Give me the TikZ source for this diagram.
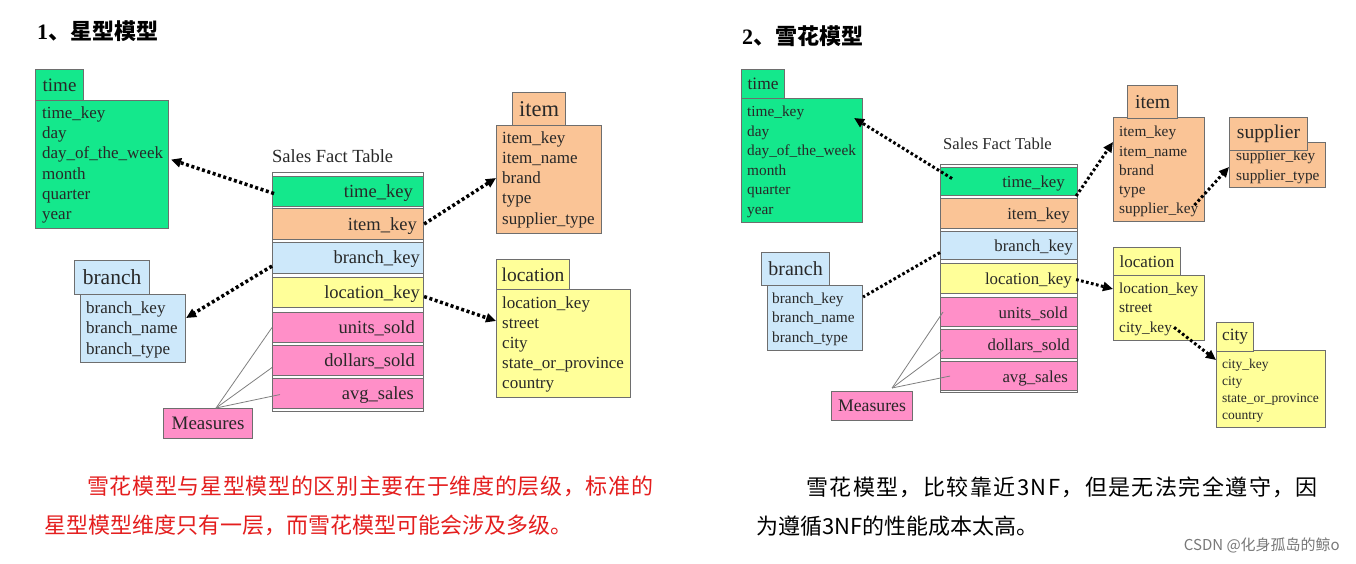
\documentclass[tikz,border=0pt]{standalone}
\usepackage{fontspec}
\setmainfont{Liberation Serif}
\newfontfamily\cjk{Noto Sans CJK SC}
\usetikzlibrary{arrows.meta,calc}
\definecolor{cgreen}{RGB}{20,232,140}
\definecolor{corange}{RGB}{250,196,150}
\definecolor{cblue}{RGB}{205,232,250}
\definecolor{cyellow}{RGB}{255,255,153}
\definecolor{cpink}{RGB}{255,143,200}
\definecolor{bordc}{RGB}{110,110,110}
\definecolor{txtc}{RGB}{40,40,40}
\definecolor{cred}{RGB}{228,30,30}
\definecolor{wmark}{RGB}{120,120,120}
\newcommand\fsz[1]{\fontsize{#1}{#1}\selectfont}
\newcommand\fieldlist[6]{% x, first baseline, step, name prefix, font size, list
  \foreach \t [count=\i from 0] in {#6}
    \node[fld, font=\fsz{#5}, anchor=base west] (#4\i) at (#1, #2+#3*\i) {\t};}
\tikzset{
  box/.style={draw=bordc, line width=1.1pt, inner sep=0pt, anchor=north west, text=txtc},
  fld/.style={inner sep=0pt, text=txtc},
  rowlbl/.style={inner sep=0pt, text=txtc, anchor=base east},
  dotc/.style={line width=3.5pt, dash pattern=on 3pt off 2.6pt, line cap=butt, black},
  dotr/.style={line width=3pt, dash pattern=on 2.7pt off 2.4pt, line cap=butt, black},
  tip/.style={-{Triangle[length=10pt,width=9pt]}},
  meas/.style={draw=gray, line width=0.8pt},
}
\begin{document}
\begin{tikzpicture}[x=1pt,y=-1pt]
\useasboundingbox[fill=white] (0,0) rectangle (1356,564);

% ================= LEFT: star schema =================
\node[anchor=west, inner sep=0pt] (titleL) at (37,31) {\fsz{22}\textbf{1}{\cjk\bfseries 、星型模型}};

% time
\node[box, fill=cgreen, minimum width=133pt, minimum height=128pt] (timeBodyL) at (35,100) {};
\fieldlist{42}{119}{20}{tLf}{17}{time\_key,day,day\_of\_the\_week,month,quarter,year}
\node[box, fill=cgreen, minimum width=48pt, minimum height=31pt, font=\fsz{19}] (timeTabL) at (35,69) {time};

% branch
\node[box, fill=cblue, minimum width=105pt, minimum height=68pt] (branchBodyL) at (80,294) {};
\fieldlist{86}{313}{20.5}{bLf}{17}{branch\_key,branch\_name,branch\_type}
\node[box, fill=cblue, minimum width=75pt, minimum height=34pt, font=\fsz{21.5}] (branchTabL) at (74,260) {branch};

% fact table
\node[anchor=base west, inner sep=0pt, text=txtc, font=\fsz{18.5}] (factLblL) at (272,163) {Sales Fact Table};
\node[box, fill=white, minimum width=151pt, minimum height=239pt] (factL) at (272,172) {};
\node[box, fill=cgreen,  minimum width=151pt, minimum height=30pt] (rTimeL)  at (272,176) {};
\node[box, fill=corange, minimum width=151pt, minimum height=31pt] (rItemL)  at (272,208) {};
\node[box, fill=cblue,   minimum width=151pt, minimum height=31pt] (rBranchL) at (272,242) {};
\node[box, fill=cyellow, minimum width=151pt, minimum height=30pt] (rLocL)   at (272,277) {};
\node[box, fill=cpink,   minimum width=151pt, minimum height=30pt] (rUnitsL) at (272,312) {};
\node[box, fill=cpink,   minimum width=151pt, minimum height=30pt] (rDollL)  at (272,345) {};
\node[box, fill=cpink,   minimum width=151pt, minimum height=30pt] (rAvgL)   at (272,378) {};
\node[rowlbl, font=\fsz{18.5}] (lTimeL)  at (413,197) {time\_key};
\node[rowlbl, font=\fsz{18.5}] (lItemL)  at (417,230) {item\_key};
\node[rowlbl, font=\fsz{18.5}] (lBranchL) at (420,263) {branch\_key};
\node[rowlbl, font=\fsz{18.5}] (lLocL)   at (420,298) {location\_key};
\node[rowlbl, font=\fsz{18.5}] (lUnitsL) at (415,333) {units\_sold};
\node[rowlbl, font=\fsz{18.5}] (lDollL)  at (415,366) {dollars\_sold};
\node[rowlbl, font=\fsz{18.5}] (lAvgL)   at (414,399) {avg\_sales};

% measures
\node[box, fill=cpink, minimum width=89pt, minimum height=30pt, font=\fsz{19}] (measL) at (163,408) {Measures};
\draw[meas] ($(measL.north)+(8,0)$) -- (rUnitsL.west);
\draw[meas] ($(measL.north)+(8,0)$) -- ($(rDollL.west)+(0,7)$);
\draw[meas] ($(measL.north)+(8,0)$) -- ($(rAvgL.west)+(8,1)$);

% item
\node[box, fill=corange, minimum width=105pt, minimum height=108pt] (itemBodyL) at (496,125) {};
\fieldlist{502}{144}{20}{iLf}{17}{item\_key,item\_name,brand,type,supplier\_type}
\node[box, fill=corange, minimum width=53pt, minimum height=33pt, font=\fsz{22.5}] (itemTabL) at (512,92) {item};

% location
\node[box, fill=cyellow, minimum width=134pt, minimum height=108pt] (locBodyL) at (496,289) {};
\fieldlist{502}{308}{20.2}{lLf}{17}{location\_key,street,city,state\_or\_province,country}
\node[box, fill=cyellow, minimum width=73pt, minimum height=30pt, font=\fsz{19.5}] (locTabL) at (496,259) {location};

% connectors
\draw[dotc, tip] ($(rTimeL.west)+(2,2)$) -- ($(timeBodyL.east)+(2,-5)$);
\draw[dotc, tip] (rItemL.east) -- ($(itemBodyL.north west)+(0,53)$);
\draw[dotc, tip] ($(rBranchL.west)+(0,8)$) -- ($(branchBodyL.north east)+(0,24)$);
\draw[dotc, tip] ($(rLocL.east)+(0,4)$) -- ($(locBodyL.north west)+(0,32)$);

% text
\node[anchor=west, inner sep=0pt, text=cred, font=\fsz{22}\cjk] (noteL1) at (87,486) {\addfontfeature{LetterSpace=3}雪花模型与星型模型的区别主要在于维度的层级，标准的};
\node[anchor=west, inner sep=0pt, text=cred, font=\fsz{22}\cjk] (noteL2) at (44,525) {星型模型维度只有一层，而雪花模型可能会涉及多级。};

% ================= RIGHT: snowflake schema =================
\node[anchor=west, inner sep=0pt] (titleR) at (742,36) {\fsz{22}\textbf{2}{\cjk\bfseries 、雪花模型}};

% time
\node[box, fill=cgreen, minimum width=121pt, minimum height=124pt] (timeBodyR) at (741,98) {};
\fieldlist{747}{117}{19.4}{tRf}{15.3}{time\_key,day,day\_of\_the\_week,month,quarter,year}
\node[box, fill=cgreen, minimum width=43pt, minimum height=29pt, font=\fsz{17.4}] (timeTabR) at (741,69) {time};

% branch
\node[box, fill=cblue, minimum width=95pt, minimum height=65pt] (branchBodyR) at (767,285) {};
\fieldlist{772}{303}{19.5}{bRf}{15.3}{branch\_key,branch\_name,branch\_type}
\node[box, fill=cblue, minimum width=68pt, minimum height=33pt, font=\fsz{20}] (branchTabR) at (761,252) {branch};

% fact table
\node[anchor=base west, inner sep=0pt, text=txtc, font=\fsz{16.6}] (factLblR) at (943,150) {Sales Fact Table};
\node[box, fill=white, minimum width=137pt, minimum height=228pt] (factR) at (940,164) {};
\node[box, fill=cgreen,  minimum width=137pt, minimum height=28pt] (rTimeR)  at (940,167) {};
\node[box, fill=corange, minimum width=137pt, minimum height=30pt] (rItemR)  at (940,198) {};
\node[box, fill=cblue,   minimum width=137pt, minimum height=28pt] (rBranchR) at (940,231) {};
\node[box, fill=cyellow, minimum width=137pt, minimum height=30pt] (rLocR)   at (940,263) {};
\node[box, fill=cpink,   minimum width=137pt, minimum height=29pt] (rUnitsR) at (940,297) {};
\node[box, fill=cpink,   minimum width=137pt, minimum height=29pt] (rDollR)  at (940,329) {};
\node[box, fill=cpink,   minimum width=137pt, minimum height=29pt] (rAvgR)   at (940,361) {};
\node[rowlbl, font=\fsz{16.8}] (lTimeR)  at (1065,187) {time\_key};
\node[rowlbl, font=\fsz{16.8}] (lItemR)  at (1070,219) {item\_key};
\node[rowlbl, font=\fsz{16.8}] (lBranchR) at (1073,251) {branch\_key};
\node[rowlbl, font=\fsz{16.8}] (lLocR)   at (1072,284) {location\_key};
\node[rowlbl, font=\fsz{16.8}] (lUnitsR) at (1068,318) {units\_sold};
\node[rowlbl, font=\fsz{16.8}] (lDollR)  at (1070,350) {dollars\_sold};
\node[rowlbl, font=\fsz{16.8}] (lAvgR)   at (1068,382) {avg\_sales};

% measures
\node[box, fill=cpink, minimum width=81pt, minimum height=29pt, font=\fsz{17.7}] (measR) at (831,391) {Measures};
\draw[meas] ($(measR.north)+(20,-3)$) -- ($(rUnitsR.west)+(3,0)$);
\draw[meas] ($(measR.north)+(20,-3)$) -- ($(rDollR.west)+(3,6)$);
\draw[meas] ($(measR.north)+(20,-3)$) -- ($(rAvgR.west)+(10,0)$);

% item
\node[box, fill=corange, minimum width=91pt, minimum height=104pt] (itemBodyR) at (1113,117) {};
\fieldlist{1119}{137}{19.2}{iRf}{15.3}{item\_key,item\_name,brand,type,supplier\_key}
\node[box, fill=corange, minimum width=50pt, minimum height=33pt, font=\fsz{19.7}] (itemTabR) at (1127,85) {item};

% supplier
\node[box, fill=corange, minimum width=96pt, minimum height=45pt] (supBodyR) at (1229,142) {};
\fieldlist{1236}{161}{20}{sRf}{15.3}{supplier\_key,supplier\_type}
\node[box, fill=corange, minimum width=78pt, minimum height=33pt, font=\fsz{19.6}] (supTabR) at (1229,117) {supplier};

% location
\node[box, fill=cyellow, minimum width=91pt, minimum height=65pt] (locBodyR) at (1113,275) {};
\fieldlist{1119}{293}{19.5}{lRf}{15.3}{location\_key,street,city\_key}
\node[box, fill=cyellow, minimum width=67pt, minimum height=28pt, font=\fsz{17}] (locTabR) at (1113,247) {location};

% city
\node[box, fill=cyellow, minimum width=109pt, minimum height=77pt] (cityBodyR) at (1216,350) {};
\fieldlist{1222}{368}{17}{cRf}{13.5}{city\_key,city,state\_or\_province,country}
\node[box, fill=cyellow, minimum width=37pt, minimum height=29pt, font=\fsz{17.3}] (cityTabR) at (1216,322) {city};

% connectors
\draw[dotr, tip] ($(rTimeR.west)+(12,-3)$) -- ($(timeBodyR.north east)+(-9,20)$);
\draw[dotr] ($(rBranchR.west)+(0,7)$) -- ($(branchBodyR.north east)+(0,12)$);
\draw[dotr, tip] ($(rTimeR.south east)+(-2,0)$) -- ($(itemBodyR.north west)+(0,25)$);
\draw[dotr, tip] ($(rLocR.east)+(-2,1)$) -- ($(locBodyR.north west)+(0,14)$);
\draw[dotr, tip] ($(iRf4.east)+(-4,-5)$) -- ($(supBodyR.north west)+(0,25)$);
\draw[dotr, tip] ($(lRf2.east)+(2,-1)$) -- ($(cityBodyR.north west)+(0,10)$);

% text
\node[anchor=west, inner sep=0pt, text=black, font=\fsz{22}\cjk] (noteR1) at (806,487) {\addfontfeature{LetterSpace=6.5}雪花模型，比较靠近3NF，但是无法完全遵守，因};
\node[anchor=west, inner sep=0pt, text=black, font=\fsz{22}\cjk] (noteR2) at (756,526) {为遵循3NF的性能成本太高。};
\node[anchor=east, inner sep=0pt, text=wmark, font=\fsz{15}\cjk] (wm) at (1340,545) {CSDN @化身孤岛的鲸o};
\end{tikzpicture}
\end{document}
